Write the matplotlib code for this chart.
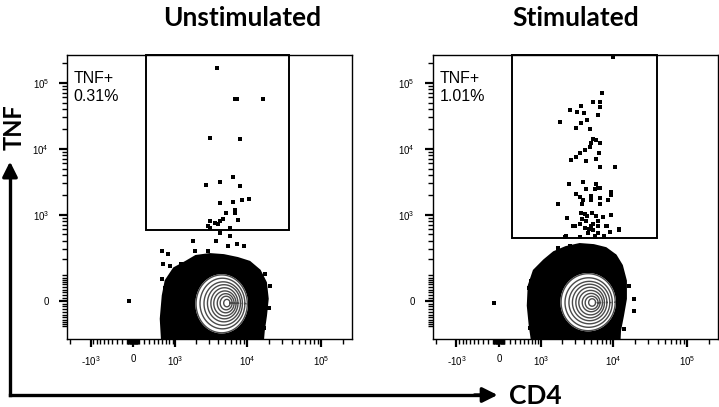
import numpy as np
import matplotlib.pyplot as plt
from matplotlib.patches import Rectangle

# ==========================================================
# DATA  (CD4 / TNF fluorescence)
# ==========================================================

TITLES = ["Unstimulated", "Stimulated"]
GATE_TEXT = ["TNF+\n0.31%", "TNF+\n1.01%"]

# gate rectangles: x0, x1, y0, y1
GATES = [
    (236, 36600, 589, 262144),
    (236, 39000, 443, 262144),
]

# events inside / around the TNF+ gate
unstim_x = [3875, 6760, 7420, 16460, 3120, 8140, 2750, 4260, 6360, 7920,
            4260, 6360, 8650, 10700, 5120, 6760, 6760, 7650, 3120, 3650,
            4260, 4670, 3120,
            2930, 4000, 5800, 4260, 5800, 1823, 3760, 5450, 7420, 9190,
            582, 773, 1945, 2930, 632, 834, 1230, 582, 685, 17600, 20400,
            19800, 16970, 16970, 773, -71]
unstim_y = [167700, 56950, 56950, 56950, 14600, 14100, 2850, 3160, 3760, 2750,
            1520, 1570, 1690, 1750, 1070, 1190, 1070, 838, 809, 754,
            809, 867, 632,
            680, 720, 632, 530, 476, 398, 398, 332, 357, 332,
            277, 247, 277, 277, 168, 155, 168, 84, 47, 109, 55,
            -25, -75, -109, -89, 0]

stim_x = [7190, 6760, 5280, 6760, 3650, 2590, 3220, 4000, 6160, 1885,
          3650, 4390, 3120, 4820, 5280, 5800, 4970, 6560, 4820, 4130,
          3530, 3120, 2670, 6360, 4260, 5800, 6560, 10700, 2506, 3875,
          3120, 3530, 3875, 4260, 5800, 6160, 5620, 6760, 9480, 9480,
          8650, 4970, 6560, 4970, 1765, 3760, 6560, 3650, 4130, 4390,
          3760, 4260, 5120, 5800, 6160, 7420, 9480, 2350, 2840, 3530,
          4970, 8140, 4670, 5280, 6160, 9190, 12150, 2210, 3530, 5620,
          7650, 10080,
          3025, 4130, 5280, 6160, 8380, 12150, 2280, 4525, 5620, 7650,
          1765, 2590, 3320, 4130, 8380, 10400, 897, 685, 607, 660,
          685, 660, 19200, 19200, 16460, 14100, -90]
stim_y = [70100, 51300, 51300, 43100, 44600, 38800, 36200, 35000, 32600, 25500,
          24700, 27400, 20700, 20000, 14100, 13700, 12300, 12300, 10700, 9630,
          8680, 7550, 6800, 8680, 6570, 7045, 5330, 5330, 2950, 3160,
          2080, 1870, 1690, 2475, 2950, 2560, 2475, 2560, 2230, 2010,
          1690, 1940, 1810, 1690, 1470, 1470, 1470, 1070, 1030, 965,
          867, 809, 1070, 965, 809, 933, 1000, 900, 678, 730,
          678, 678, 610, 589, 530, 549, 589, 460, 460, 460,
          460, 246200,
          678, 632, 730, 678, 678, 610, 476, 530, 476, 476,
          309, 332, 257, 277, 247, 229, 109, 75, 47, 25,
          -28, -109, 7, -35, 55, -114, -7]

# outline of the dense (saturated) part of the population
unstim_blob_x = [632, 580, 632, 712, 965, 1450, 2006, 3120, 4820, 7420,
                 10700, 14600, 17600, 18600, 17600, 16460, 15500]
unstim_blob_y = [-300, -67, 18, 75, 136, 177, 222, 238, 229, 205,
                 177, 124, 67, 7, -55, -124, -300]
stim_blob_x = [773, 660, 607, 632, 773, 1116, 1550, 2280, 3530, 5450,
               7920, 10700, 12900, 14600, 14600, 13300, 12150, 11760]
stim_blob_y = [-300, -98, -17, 55, 124, 189, 257, 309, 345, 332,
               298, 229, 155, 75, 7, -55, -124, -300]

# contour rings, outermost first: x low/high, y low/high
unstim_ring_xlo = [2006, 2280, 2590, 2890, 3220, 3530, 3940, 4320, 4820]
unstim_ring_xhi = [10080, 9340, 8650, 8140, 7530, 7090, 6670, 6270, 5880]
unstim_ring_ylo = [-136, -114, -96, -80, -67, -55, -43, -32, -21]
unstim_ring_yhi = [103, 87, 71, 59, 47, 35, 25, 16, 5]

stim_ring_xlo = [1945, 2210, 2506, 2800, 3120, 3428, 3820, 4190, 4670]
stim_ring_xhi = [10700, 9780, 9040, 8260, 7650, 7190, 6670, 6270, 5800]
stim_ring_ylo = [-124, -106, -89, -75, -63, -51, -39, -30, -19]
stim_ring_yhi = [109, 89, 73, 61, 49, 37, 26, 16, 7]

PANELS = [
    (unstim_x, unstim_y, unstim_blob_x, unstim_blob_y,
     (unstim_ring_xlo, unstim_ring_xhi, unstim_ring_ylo, unstim_ring_yhi)),
    (stim_x, stim_y, stim_blob_x, stim_blob_y,
     (stim_ring_xlo, stim_ring_xhi, stim_ring_ylo, stim_ring_yhi)),
]

# ==========================================================
# BIEXPONENTIAL-LIKE SCALES
# ==========================================================

def fwd_x(v):
    return np.arcsinh(np.asarray(v, dtype=float) / 575.0)

def inv_x(t):
    return 575.0 * np.sinh(t)

def fwd_y(v):
    return np.arcsinh(np.asarray(v, dtype=float) / 100.0)

def inv_y(t):
    return 100.0 * np.sinh(t)

def minor_list(lo, hi):
    out = []
    for k in range(1, 6):
        for m in range(1, 10):
            v = m * 10 ** k
            if m == 1 and k >= 3:
                continue
            for s in (v, -v):
                if lo <= s <= hi:
                    out.append(s)
    return out

# ==========================================================
# STYLE
# ==========================================================

plt.rcParams["font.family"] = "Liberation Sans"
plt.rcParams["mathtext.fontset"] = "custom"
plt.rcParams["mathtext.rm"] = "Liberation Sans"
plt.rcParams["mathtext.it"] = "Liberation Sans"

fig = plt.figure(figsize=(7.19, 4.07), dpi=100)

AX_POS = [
    [0.0932, 0.1671, 0.3964, 0.6978],
    [0.6022, 0.1671, 0.3964, 0.6978],
]

XLIM = (-2200, 262144)
YLIM = (-176, 262144)

for i, (px, py, bx, by, rings) in enumerate(PANELS):

    ax = fig.add_axes(AX_POS[i])
    ax.set_xscale("function", functions=(fwd_x, inv_x))
    ax.set_yscale("function", functions=(fwd_y, inv_y))
    ax.set_xlim(*XLIM)
    ax.set_ylim(*YLIM)

    # dense population
    ax.fill(bx, by, color="black", lw=2.5, zorder=1)

    xlo, xhi, ylo, yhi = rings
    theta = np.linspace(0, 2 * np.pi, 120)
    for r in range(len(xlo)):
        cx = (fwd_x(xlo[r]) + fwd_x(xhi[r])) / 2
        rx = (fwd_x(xhi[r]) - fwd_x(xlo[r])) / 2
        cy = (fwd_y(ylo[r]) + fwd_y(yhi[r])) / 2
        ry = (fwd_y(yhi[r]) - fwd_y(ylo[r])) / 2
        ex = inv_x(cx + rx * np.cos(theta))
        ey = inv_y(cy + ry * np.sin(theta))
        if r == 0:
            ax.fill(ex, ey, color="white", zorder=2)
        ax.plot(ex, ey, color="#4a4a4a", lw=1.0, zorder=3)

    # single events
    ax.scatter(px, py, s=8, marker="s", color="black", lw=0, zorder=4)

    # gate
    g = GATES[i]
    ax.add_patch(Rectangle((g[0], g[2]), g[1] - g[0], g[3] - g[2],
                           fill=False, ec="black", lw=1.4, zorder=5,
                           clip_on=False))

    ax.text(0.022, 0.945, GATE_TEXT[i], transform=ax.transAxes,
            fontsize=11.5, va="top", ha="left", linespacing=1.3)

    # ticks
    ax.set_xticks([-1000, 0, 1000, 10000, 100000])
    ax.set_xticklabels(["-$10^{3}$", "0", "$10^{3}$", "$10^{4}$", "$10^{5}$"])
    ax.set_yticks([0, 1000, 10000, 100000])
    ax.set_yticklabels(["0", "$10^{3}$", "$10^{4}$", "$10^{5}$"])
    ax.set_xticks(minor_list(*XLIM), minor=True)
    ax.set_yticks(minor_list(*YLIM), minor=True)

    ax.tick_params(which="major", direction="out", length=6, width=1.6,
                   labelsize=7, color="black")
    ax.tick_params(which="minor", direction="out", length=3.5, width=1.0,
                   color="black")
    ax.tick_params(axis="x", which="major", pad=5)
    ax.tick_params(axis="y", which="major", pad=7)

    for s in ax.spines.values():
        s.set_linewidth(1.0)

    fig.text(AX_POS[i][0] + AX_POS[i][2] / 2 + (0.045 if i == 0 else -0.0),
             0.955, TITLES[i], fontsize=19, fontweight="bold",
             family="Lato", ha="center", va="center")

# ==========================================================
# AXIS ARROWS
# ==========================================================

corner = (0.0139, 0.0295)
fig.add_artist(plt.Line2D([corner[0], corner[0]], [corner[1], 0.58],
                          color="black", lw=2.4, transform=fig.transFigure))
fig.add_artist(plt.Line2D([corner[0], 0.67], [corner[1], corner[1]],
                          color="black", lw=2.4, transform=fig.transFigure))
plt.annotate("", xy=(corner[0], 0.603), xytext=(corner[0], 0.57),
             xycoords="figure fraction", textcoords="figure fraction",
             arrowprops=dict(arrowstyle="-|>,head_length=0.9,head_width=0.45",
                             color="black", lw=2.4, shrinkA=0, shrinkB=0))
plt.annotate("", xy=(0.692, corner[1]), xytext=(0.66, corner[1]),
             xycoords="figure fraction", textcoords="figure fraction",
             arrowprops=dict(arrowstyle="-|>,head_length=0.9,head_width=0.45",
                             color="black", lw=2.4, shrinkA=0, shrinkB=0))

fig.text(0.0195, 0.688, "TNF", rotation=90, fontsize=17, fontweight="bold",
         family="Lato", ha="center", va="center")
fig.text(0.745, 0.027, "CD4", fontsize=19, fontweight="bold",
         family="Lato", ha="center", va="center")

fig.savefig("out.png", dpi=100)
